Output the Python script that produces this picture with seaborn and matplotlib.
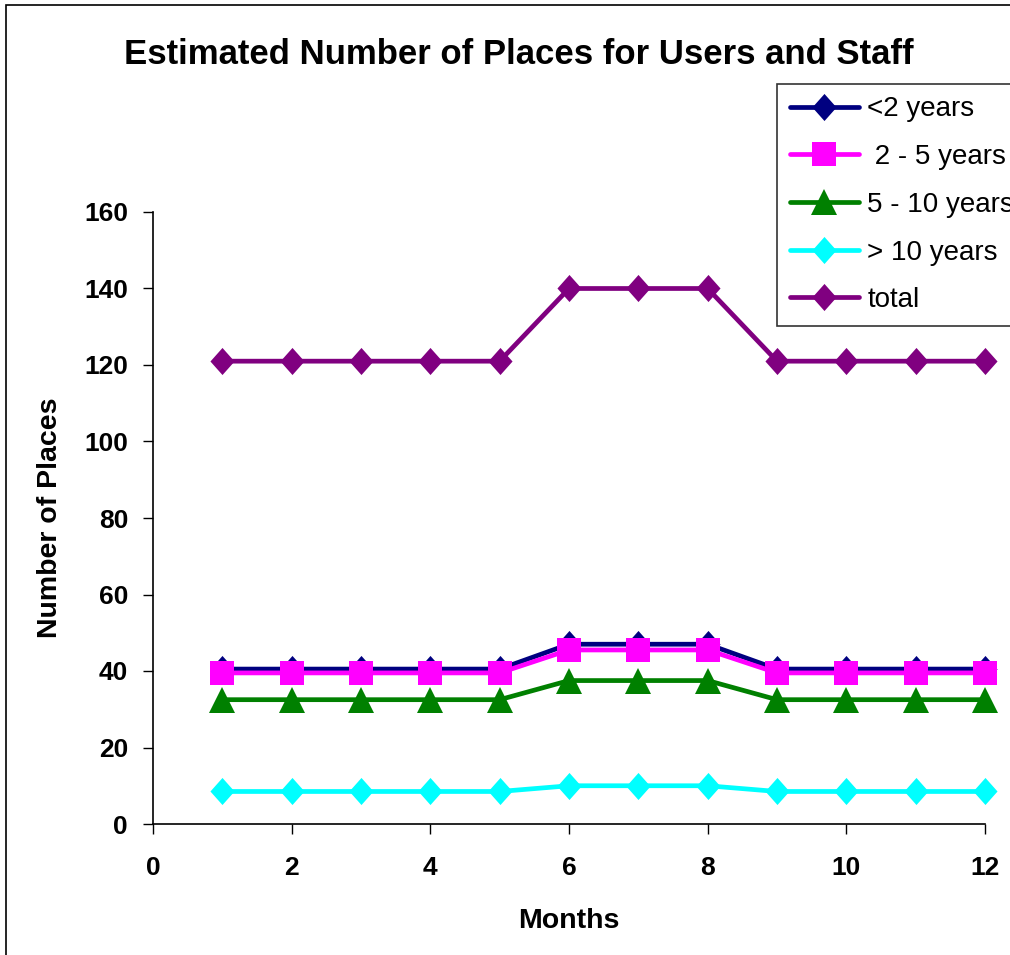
import matplotlib
matplotlib.use("Agg")
import matplotlib.pyplot as plt
import seaborn as sns
import pandas as pd
from matplotlib.patches import Rectangle
from matplotlib.path import Path

months = [1, 2, 3, 4, 5, 6, 7, 8, 9, 10, 11, 12]
under_2 = [40.5, 40.5, 40.5, 40.5, 40.5, 47, 47, 47, 40.5, 40.5, 40.5, 40.5]
y2_5 = [39.5, 39.5, 39.5, 39.5, 39.5, 45.5, 45.5, 45.5, 39.5, 39.5, 39.5, 39.5]
y5_10 = [32.5, 32.5, 32.5, 32.5, 32.5, 37.5, 37.5, 37.5, 32.5, 32.5, 32.5, 32.5]
over_10 = [8.5, 8.5, 8.5, 8.5, 8.5, 10, 10, 10, 8.5, 8.5, 8.5, 8.5]
total = [121, 121, 121, 121, 121, 140, 140, 140, 121, 121, 121, 121]

series_names = ["<2 years", " 2 - 5 years", "5 - 10 years", "> 10 years", "total"]
series_vals = [under_2, y2_5, y5_10, over_10, total]
colors = ["#000080", "#FF00FF", "#008000", "#00FFFF", "#800080"]

diamond = Path([(0, 1), (0.89, 0), (0, -1), (-0.89, 0), (0, 1)],
               [Path.MOVETO, Path.LINETO, Path.LINETO, Path.LINETO, Path.CLOSEPOLY])
markers = [diamond, "s", "^", diamond, diamond]
msizes = [19.5, 17, 19, 19.5, 19.5]

rows = []
for name, vals in zip(series_names, series_vals):
    for m, v in zip(months, vals):
        rows.append({"Months": m, "Number of Places": v, "series": name})
df = pd.DataFrame(rows)

sns.set_theme(style="white")
plt.rcParams["font.family"] = ["Liberation Sans", "DejaVu Sans"]
plt.rcParams.update({"text.color": "black", "axes.labelcolor": "black",
                     "xtick.color": "black", "ytick.color": "black"})

fig = plt.figure(figsize=(10.10, 9.55), dpi=100)
ax = fig.add_axes([153 / 1010, 1 - 824 / 955, (985 - 153) / 1010, (824 - 212) / 955])

sns.lineplot(
    data=df, x="Months", y="Number of Places", hue="series", style="series",
    hue_order=series_names, style_order=series_names,
    palette=dict(zip(series_names, colors)),
    markers=dict(zip(series_names, markers)), dashes=False,
    linewidth=3.4, markersize=19, markeredgewidth=0, ax=ax, legend=True,
)
data_lines = [l for l in ax.lines if len(l.get_xdata()) > 0]
for ln, ms in zip(data_lines, msizes):
    ln.set_markersize(ms)
    ln.set_clip_on(False)

ax.set_xlim(0, 12)
ax.set_ylim(0, 160)
ax.set_xticks(range(0, 13, 2))
ax.set_yticks(range(0, 161, 20))
for s in ["top", "right"]:
    ax.spines[s].set_visible(False)
for s in ["left", "bottom"]:
    ax.spines[s].set_color("black")
    ax.spines[s].set_linewidth(1.2)
ax.tick_params(axis="both", direction="out", length=7, width=1, color="black",
               labelsize=19, bottom=True, left=True)
ax.tick_params(axis="x", pad=16)
ax.tick_params(axis="y", pad=11)
for lab in ax.get_xticklabels() + ax.get_yticklabels():
    lab.set_fontweight("bold")
ax.set_xlabel("Months", fontsize=20.5, fontweight="bold")
ax.set_ylabel("Number of Places", fontsize=20.5, fontweight="bold")
ax.xaxis.set_label_coords(0.5, (824 - 921) / 612)
ax.xaxis.label.set_verticalalignment("center")
ax.yaxis.set_label_coords((50 - 153) / 832, 0.5)
ax.yaxis.label.set_verticalalignment("center")

sns.move_legend(
    ax, "upper left", bbox_to_anchor=(777 / 1010, 1 - 84 / 955),
    bbox_transform=fig.transFigure, title=None, frameon=True, fontsize=20,
    handlelength=2.5, handletextpad=0.3, labelspacing=0.78, borderpad=0.45,
    fancybox=False, borderaxespad=0,
)
leg = ax.get_legend()
leg.get_frame().set_edgecolor("black")
leg.get_frame().set_linewidth(1.2)
for h, ms in zip(leg.legend_handles, msizes):
    h.set_linewidth(3.4)
    h.set_markersize(ms)
    h.set_markeredgewidth(0)

fig.text(519 / 1010, 1 - 55 / 955, "Estimated Number of Places for Users and Staff",
         ha="center", va="center", fontsize=25, fontweight="bold")

fig.patches.append(Rectangle((6 / 1010, -0.1), 1.2, 1 - 5 / 955 + 0.1,
                             transform=fig.transFigure, fill=False,
                             edgecolor="black", linewidth=1.2))

fig.savefig("out.png", dpi=100)
